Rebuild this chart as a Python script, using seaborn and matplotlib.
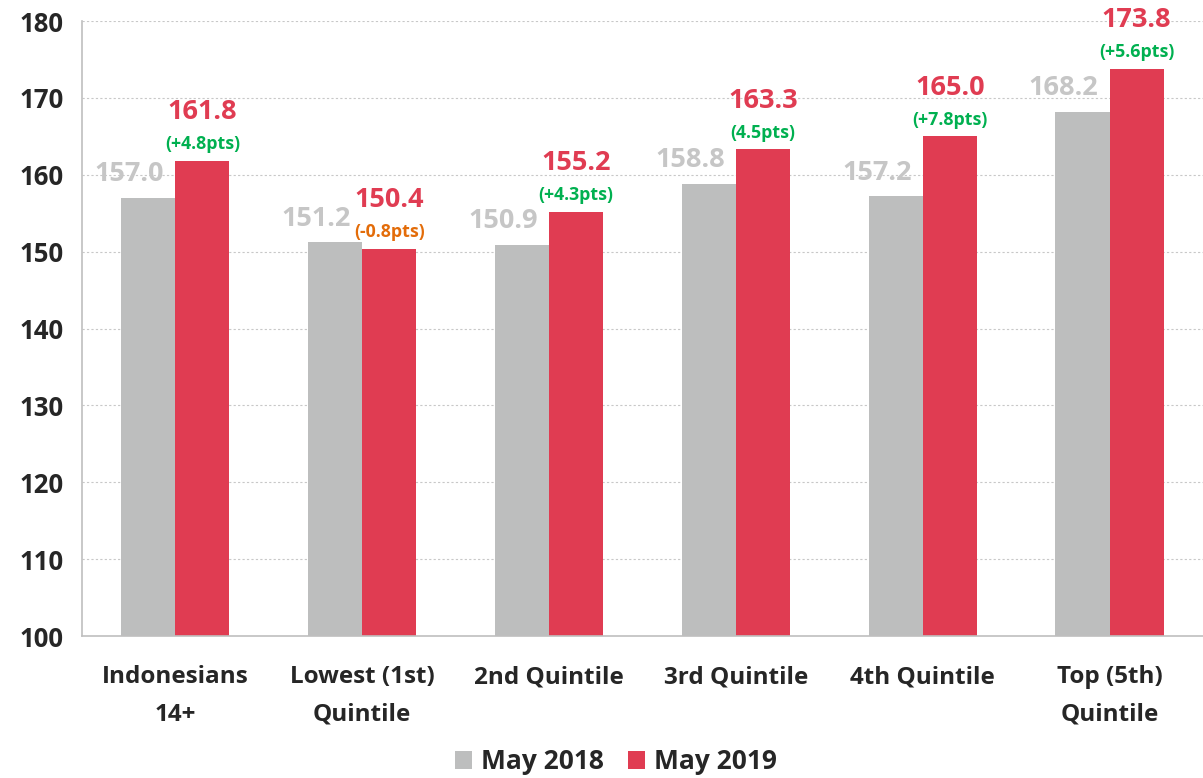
import numpy as np
import pandas as pd
import seaborn as sns
import matplotlib.pyplot as plt
from matplotlib.ticker import FixedLocator

categories = ["Indonesians\n14+", "Lowest (1st)\nQuintile", "2nd Quintile",
              "3rd Quintile", "4th Quintile", "Top (5th)\nQuintile"]
may_2018 = [157.0, 151.2, 150.9, 158.8, 157.2, 168.2]
may_2019 = [161.8, 150.4, 155.2, 163.3, 165.0, 173.8]
changes = ["(+4.8pts)", "(-0.8pts)", "(+4.3pts)", "(4.5pts)", "(+7.8pts)", "(+5.6pts)"]

GREY = "#BDBEBE"
RED = "#E03C52"
GREEN = "#00B050"
ORANGE = "#E36C09"

sns.set_style("white")
plt.rcParams['font.family'] = ['Open Sans', 'DejaVu Sans']
plt.rcParams['font.weight'] = 'bold'

df = pd.DataFrame({
    "cat": categories * 2,
    "value": may_2018 + may_2019,
    "series": ["May 2018"] * 6 + ["May 2019"] * 6,
})

fig = plt.figure(figsize=(12.03, 7.78), dpi=100)
ax = fig.add_axes([0.068, 0.1825, 0.932, 0.7905])

sns.barplot(data=df, x="cat", y="value", hue="series", palette=[GREY, RED],
            width=0.58, gap=0, ax=ax, saturation=1, legend=True, linewidth=0)

ax.set_ylim(100, 180)
ax.set_xlim(-0.5, 5.5)
ax.set_yticks(np.arange(100, 181, 10))
ax.yaxis.grid(True, linestyle=(0, (2, 2)), color="#C8C8C8", linewidth=0.8)
ax.set_axisbelow(True)

for side in ["top", "right"]:
    ax.spines[side].set_visible(False)
for side in ["left", "bottom"]:
    ax.spines[side].set_color("#BFBFBF")
    ax.spines[side].set_linewidth(1.2)

ax.tick_params(axis="y", which="major", length=7, color="#BFBFBF", labelsize=18.5, pad=6)
ax.tick_params(axis="x", which="major", length=0, labelsize=17.5, pad=21)
ax.xaxis.set_minor_locator(FixedLocator(np.arange(-0.5, 6, 1)))
ax.tick_params(axis="x", which="minor", length=10, color="#BFBFBF", direction="out")
for lab in ax.get_xticklabels() + ax.get_yticklabels():
    lab.set_fontweight("bold")
for lab in ax.get_xticklabels():
    lab.set_linespacing(1.75)
ax.set_xlabel("")
ax.set_ylabel("")

# value labels
grey_bars, red_bars = ax.containers[0], ax.containers[1]
for i, (b, v) in enumerate(zip(grey_bars, may_2018)):
    ax.annotate(f"{v:.1f}", (b.get_x() + b.get_width() / 2, v), xytext=(-13.5, 17),
                textcoords="offset points", ha="center", va="center",
                fontsize=19.5, fontweight="bold", color="#C6C6C6")
for i, (b, v) in enumerate(zip(red_bars, may_2019)):
    x = b.get_x() + b.get_width() / 2
    ax.annotate(f"{v:.1f}", (x, v), xytext=(0, 35), textcoords="offset points",
                ha="center", va="center", fontsize=19.5, fontweight="bold", color=RED)
    col = ORANGE if changes[i].startswith("(-") else GREEN
    ax.annotate(changes[i], (x, v), xytext=(0, 12), textcoords="offset points",
                ha="center", va="center", fontsize=12.8, fontweight="bold", color=col)

handles, labels = ax.get_legend_handles_labels()
ax.get_legend().remove()
fig.legend(handles, labels, loc="center", bbox_to_anchor=(0.512, 0.021), ncol=2,
           frameon=False, handlelength=0.65, handleheight=0.65,
           columnspacing=0.9, handletextpad=0.35, prop={"weight": "bold", "size": 19})

fig.savefig("out.png", dpi=100)
